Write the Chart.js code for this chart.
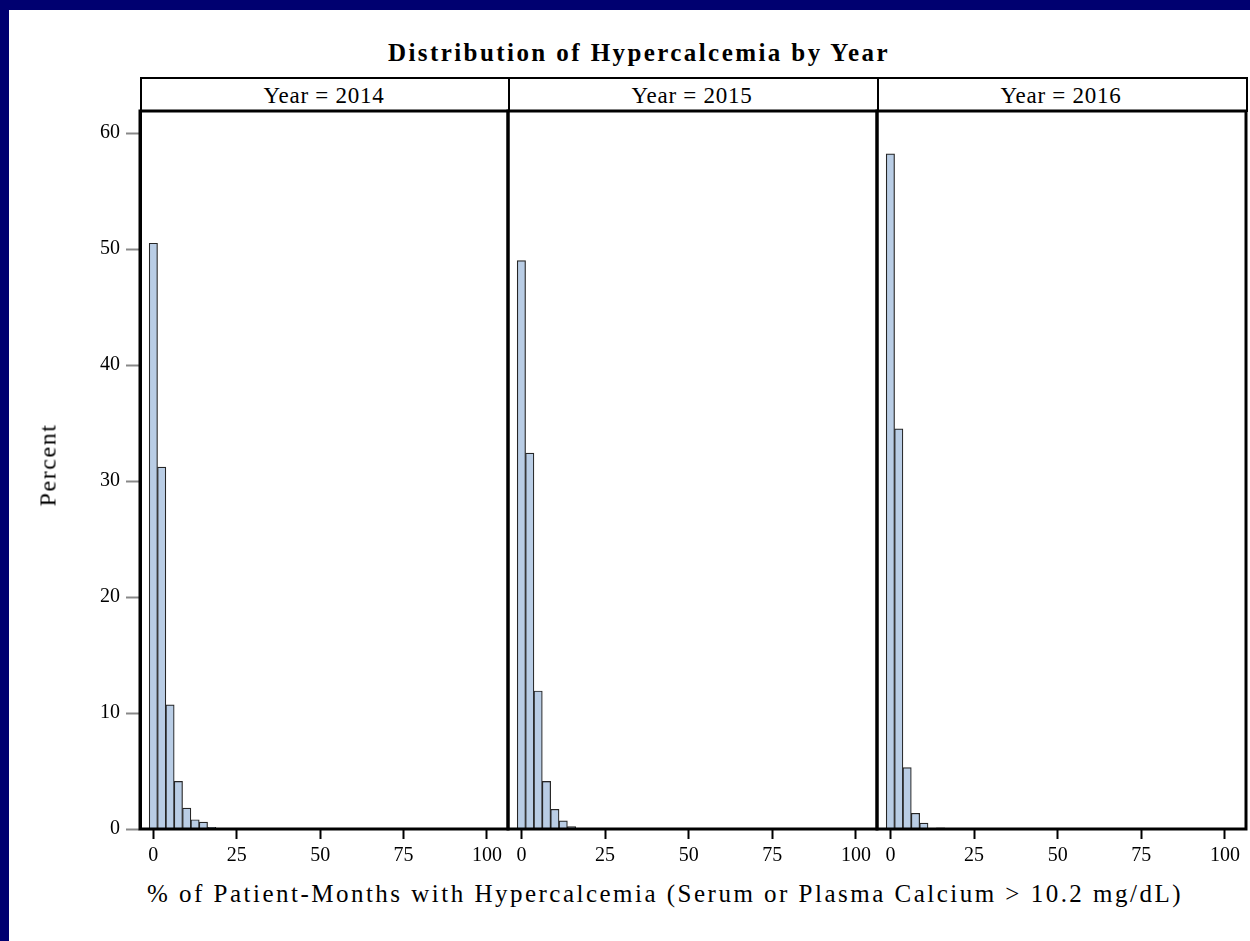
<!DOCTYPE html>
<html><head><meta charset="utf-8">
<script src="https://cdn.jsdelivr.net/npm/chart.js@4.4.1/dist/chart.umd.min.js"></script>
<style>
html,body{margin:0;padding:0;background:#fff;}
#page{position:relative;width:1250px;height:941px;overflow:hidden;background:#fff;}
.navy{position:absolute;background:#000070;}
.txt{position:absolute;white-space:nowrap;font-family:"Liberation Serif","Times New Roman",serif;color:#000;line-height:1;}
.hdr{position:absolute;box-sizing:border-box;border:2px solid #000;top:77px;height:35px;}
canvas{position:absolute;}
</style></head>
<body><div id="page">
<div class="navy" style="left:0;top:0;width:1250px;height:10px"></div>
<div class="navy" style="left:0;top:0;width:9px;height:941px"></div>
<div class="hdr" style="left:140px;width:370px"></div>
<div class="hdr" style="left:508px;width:371px"></div>
<div class="hdr" style="left:877px;width:371px"></div>
<canvas id="c1" width="490" height="761" style="left:20px;top:109px"></canvas>
<canvas id="c2" width="373" height="761" style="left:506px;top:109px"></canvas>
<canvas id="c3" width="373" height="761" style="left:875px;top:109px"></canvas>
</div>
<script>
// ---- data ----
const chartTitle = 'Distribution of Hypercalcemia by Year';
const years = ['2014', '2015', '2016'];
const binCenters = [0, 2.5, 5, 7.5, 10, 12.5, 15, 17.5, 20];
const pct2014 = [50.5, 31.2, 10.7, 4.1, 1.8, 0.8, 0.6, 0.15, 0.05];
const pct2015 = [49.0, 32.4, 11.9, 4.1, 1.7, 0.7, 0.2, 0.05, 0];
const pct2016 = [58.2, 34.5, 5.3, 1.35, 0.5, 0.05, 0.1, 0, 0];
const xTicks = [0, 25, 50, 75, 100];
const yTicks = [0, 10, 20, 30, 40, 50, 60];
const xTitle = '% of Patient-Months with Hypercalcemia (Serum or Plasma Calcium > 10.2 mg/dL)';
const yTitle = 'Percent';

const page = document.getElementById('page');
function addText(str, size, bold, cx, cy, target, rotate) {
  const el = document.createElement('div');
  el.className = 'txt';
  el.textContent = str;
  el.style.fontSize = size + 'px';
  if (bold) el.style.fontWeight = 'bold';
  page.appendChild(el);
  const w = el.getBoundingClientRect().width;
  const ls = (target - w) / str.length;
  el.style.letterSpacing = ls + 'px';
  const w2 = el.getBoundingClientRect().width;
  const h = el.getBoundingClientRect().height;
  el.style.left = (cx - w2 / 2) + 'px';
  el.style.top = (cy - h / 2) + 'px';
  if (rotate) el.style.transform = 'rotate(-90deg)';
  return el;
}
addText(chartTitle, 25, true, 639, 52, 502);
addText('Year = ' + years[0], 23, false, 324, 95, 121);
addText('Year = ' + years[1], 23, false, 692, 95, 121);
addText('Year = ' + years[2], 23, false, 1061, 95, 121);
addText(xTitle, 25, false, 665, 893, 1036);
addText(yTitle, 24, false, 47, 465, 83, true);

const boxPlugin = {
  id: 'panelBox',
  afterDraw(chart) {
    const { ctx, chartArea: a } = chart;
    ctx.save();
    ctx.strokeStyle = '#000';
    ctx.lineWidth = 3;
    ctx.strokeRect(a.left, a.top, a.right - a.left, a.bottom - a.top);
    ctx.restore();
  }
};

function makeChart(id, vals, showY, padLeft) {
  return new Chart(document.getElementById(id), {
    type: 'bar',
    data: {
      datasets: [{
        data: binCenters.map((x, i) => ({ x: x, y: vals[i] })),
        backgroundColor: '#b9cde5',
        borderColor: '#262626',
        borderWidth: 1.2,
        barPercentage: 1,
        categoryPercentage: 1,
        grouped: false
      }]
    },
    options: {
      responsive: false,
      animation: false,
      devicePixelRatio: 1,
      layout: { padding: { left: padLeft, right: 2, top: 2, bottom: 0 } },
      plugins: { legend: { display: false }, tooltip: { enabled: false }, title: { display: false } },
      scales: {
        x: {
          type: 'linear', min: -4, max: 106.3, offset: false,
          afterBuildTicks: s => { s.ticks = xTicks.map(v => ({ value: v })); },
          afterFit: s => { s.height = 41; s.paddingLeft = 0; s.paddingRight = 0; },
          grid: { display: true, offset: false, drawOnChartArea: false, drawTicks: true, tickLength: 10, tickColor: '#000', tickWidth: 2 },
          border: { display: true, color: '#000', width: 2 },
          ticks: { color: '#000', font: { family: 'Liberation Serif', size: 20 }, padding: 5, maxRotation: 0, autoSkip: false }
        },
        y: {
          display: showY, min: 0, max: 61.9,
          afterBuildTicks: s => { s.ticks = yTicks.map(v => ({ value: v })); },
          afterFit: s => { s.width = showY ? 120 : 0; s.paddingTop = 0; s.paddingBottom = 0; },
          grid: { display: true, drawOnChartArea: false, drawTicks: true, tickLength: 14, tickColor: '#888', tickWidth: 2 },
          border: { display: true, color: '#000', width: 3 },
          ticks: { color: '#000', font: { family: 'Liberation Serif', size: 20 }, padding: 6 }
        }
      }
    },
    plugins: [boxPlugin]
  });
}
makeChart('c1', pct2014, true, 0);
makeChart('c2', pct2015, false, 2);
makeChart('c3', pct2016, false, 2);
</script>
</body></html>
